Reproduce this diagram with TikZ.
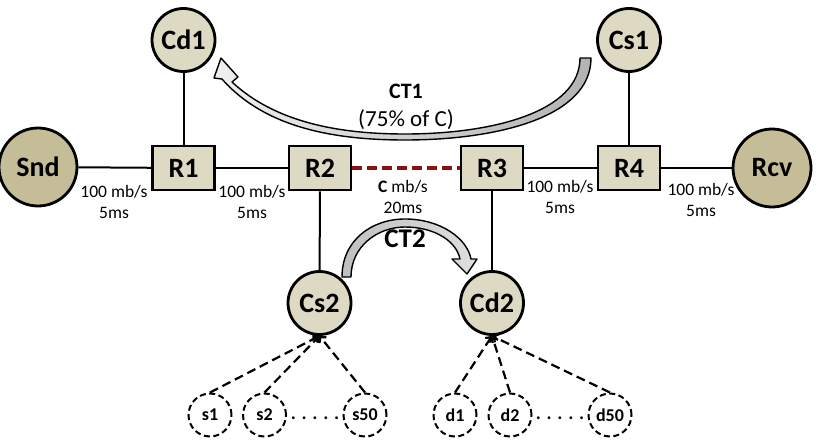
\documentclass[tikz,border=0pt]{standalone}
\usepackage{fontspec}
\setmainfont{Carlito}
\usetikzlibrary{arrows.meta}
\definecolor{tanlight}{HTML}{DDD9C3}
\definecolor{tandark}{HTML}{C4BD97}
\definecolor{linkred}{HTML}{8B1010}
\begin{document}
\begin{tikzpicture}[x=1pt,y=-1pt,
  ctrl/.style={circle,draw=black,line width=2.8pt,fill=tanlight,minimum size=63pt,inner sep=0pt,font=\fontsize{28}{30}\selectfont\bfseries},
  hoststyle/.style={circle,draw=black,line width=2.8pt,fill=tandark,minimum size=78pt,inner sep=0pt,font=\fontsize{28}{30}\selectfont\bfseries},
  router/.style={rectangle,draw=black,line width=2.8pt,fill=tanlight,minimum width=62pt,minimum height=44pt,inner sep=0pt,font=\fontsize{28}{30}\selectfont\bfseries},
  flow/.style={circle,draw=black,dash pattern=on 6pt off 3.5pt,line width=2pt,minimum size=43pt,inner sep=0pt,font=\fontsize{18}{20}\selectfont\bfseries},
  link/.style={line width=2pt},
  redlink/.style={line width=3.2pt,draw=linkred,dash pattern=on 10pt off 5pt},
  lbl/.style={font=\fontsize{17.5}{21}\selectfont,align=center,inner sep=0pt},
  fedge/.style={dash pattern=on 9pt off 5pt,line width=2.2pt,-{Straight Barb[length=4pt,width=9pt]}},
  bigarrow/.style={draw=black,line width=1.4pt,line join=round}
]
\useasboundingbox (0,0) rectangle (818,444);

% hosts and routers
\node[hoststyle] (snd) at (38,167) {Snd};
\node[hoststyle] (rcv) at (772,168) {Rcv};
\node[router] (r1) at (183.5,168) {R1};
\node[router] (r2) at (320,168) {R2};
\node[router] (r3) at (492,168) {R3};
\node[router] (r4) at (629,168) {R4};
\node[ctrl] (cd1) at (183.5,40) {Cd1};
\node[ctrl] (cs1) at (629,40) {Cs1};
\node[ctrl] (cs2) at (319.5,303) {Cs2};
\node[ctrl] (cd2) at (492,303) {Cd2};

% flows
\node[flow] (s1) at (210,415) {s1};
\node[flow] (s2) at (264.5,415) {s2};
\node[flow] (s50) at (365,415) {s50};
\node[flow] (d1) at (455,415) {d1};
\node[flow] (d2) at (510,415) {d2};
\node[flow] (d50) at (610,415) {d50};
\node[font=\fontsize{19}{20}\selectfont\bfseries,inner sep=0pt,anchor=base] (sdots) at (315,419) {. . . . .};
\node[font=\fontsize{19}{20}\selectfont\bfseries,inner sep=0pt,anchor=base] (ddots) at (560,419) {. . . . .};

% links
\draw[link] (snd) -- (r1);
\draw[link] (r1) -- (r2);
\draw[redlink] (r2) -- (r3);
\draw[link] (r3) -- (r4);
\draw[link] (r4) -- (rcv);
\draw[link] (cd1) -- (r1);
\draw[link] (cs1) -- (r4);
\draw[link] (r2) -- (cs2);
\draw[link] (r3) -- (cd2);

% flow edges
\draw[fedge] (s1.north) -- (cs2.south);
\draw[fedge] (s2.north) -- (cs2.south);
\draw[fedge] (s50.north) -- (cs2.south);
\draw[fedge] (d1.north) -- (cd2.south);
\draw[fedge] (d2.north) -- (cd2.south);
\draw[fedge] (d50.north) -- (cd2.south);

% link labels
\node[lbl] (l1) at (114,202) {100 mb/s\\5ms};
\node[lbl] (l2) at (252,202) {100 mb/s\\5ms};
\node[lbl] (l3) at (403,197) {\textbf{C} mb/s\\20ms};
\node[lbl] (l4) at (560,197) {100 mb/s\\5ms};
\node[lbl] (l5) at (701,200) {100 mb/s\\5ms};

% CT1 arrow
\path[bigarrow,left color=gray!12,right color=gray!60]
  (222,79) .. controls (265,128) and (335,140) .. (405,140)
  .. controls (495,140) and (591,118) .. (591,58)
  -- (580,58)
  .. controls (580,112) and (492,134) .. (405,134)
  .. controls (338,134) and (275,122) .. (232,82)
  -- (238,77) -- (221,58) -- (214,78) -- cycle;
\node[font=\fontsize{22}{24}\selectfont\bfseries,inner sep=0pt] (ct1) at (406,91) {CT1};
\node[font=\fontsize{23}{24}\selectfont,inner sep=0pt] (ct1b) at (406,120) {(75\% of C)};

% CT2 arrow
\path[bigarrow,left color=gray!50,right color=gray!25]
  (342,277) .. controls (342,240) and (372,219) .. (405,219)
  .. controls (440,219) and (467,238) .. (471,259)
  -- (477,259) -- (467,274) -- (452,259) -- (460,259)
  .. controls (456,240) and (433,227) .. (405,227)
  .. controls (378,227) and (351,246) .. (351,277) -- cycle;
\node[font=\fontsize{27}{28}\selectfont\bfseries,inner sep=0pt] (ct2) at (405,239) {CT2};
\end{tikzpicture}
\end{document}
